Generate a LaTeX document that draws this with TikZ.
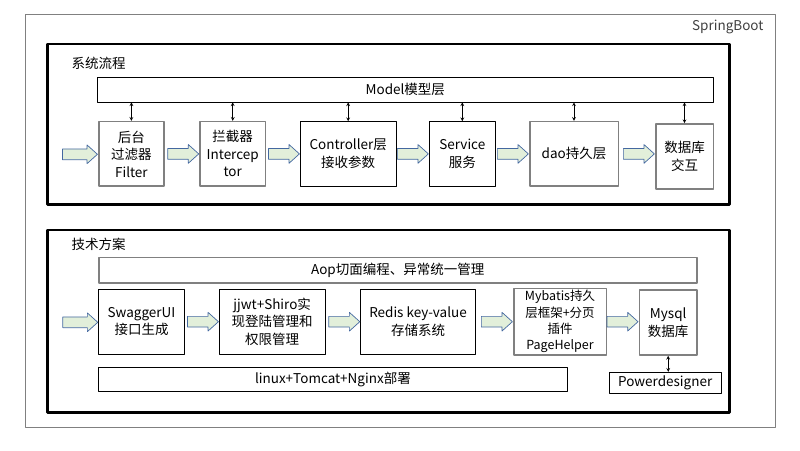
\documentclass[tikz,border=0pt]{standalone}
\usepackage{fontspec}
\setmainfont{Noto Sans CJK SC}
\usetikzlibrary{shapes.arrows}
\definecolor{arrowgreen}{RGB}{226,239,218}
\definecolor{arrowblue}{RGB}{68,104,160}
\definecolor{framegray}{RGB}{128,128,128}
\begin{document}
\begin{tikzpicture}[x=1pt,y=-1pt,font=\fontsize{13.5}{17.5}\selectfont,line join=round,>=stealth,
  box/.style={draw=black,line width=.8pt,minimum height=64.5,align=center,inner sep=1pt},
  graybox/.style={box,draw=framegray,line width=1.6pt},
  bar/.style={box,minimum height=25},
  frame/.style={draw=black,line width=2.5pt},
  fat/.style={single arrow,draw=arrowblue,fill=arrowgreen,line width=.7pt,minimum height=31,
    inner xsep=0pt,inner ysep=5pt,text height=0pt,text depth=0pt,
    single arrow head extend=4,single arrow tip angle=84},
  link/.style={<->,line width=.7pt}]
\useasboundingbox (0,0) rectangle (800,450);
\draw[framegray,line width=1pt] (25.3,14) rectangle (775.7,427.3);
\node[anchor=east,text=black!75] (sb) at (767,27) {SpringBoot};
% 系统流程
\draw[frame] (47.3,44) rectangle (729.3,204.7);
\node[anchor=west] (flowtitle) at (68,63) {系统流程};
\node[bar,minimum width=616] (model) at (405.3,89.4) {Model模型层};
\node[graybox,minimum width=65.3] (filter) at (131.4,153.9) {后台\\过滤器\\Filter};
\node[graybox,minimum width=65.3] (intercept) at (232.7,153.9) {拦截器\\Intercep\\tor};
\node[box,minimum width=95.7] (controller) at (348.2,153.9) {Controller层\\接收参数};
\node[box,minimum width=66] (service) at (462.3,153.9) {Service\\服务};
\node[graybox,minimum width=88.6] (dao) at (574,153.9) {dao持久层};
\node[graybox,minimum width=57.6,minimum height=65] (db) at (684.5,156.5) {数据库\\交互};
\coordinate (in1) at (63,154.3);
% 技术方案
\draw[frame] (47.3,230) rectangle (729.3,412.3);
\node[anchor=west] (techtitle) at (68,244) {技术方案};
\node[bar,graybox,minimum width=598,minimum height=25.4] (aop) at (397.7,270) {Aop切面编程、异常统一管理};
\node[box,minimum width=85.6] (swagger) at (141.5,321.7) {SwaggerUI\\接口生成};
\node[box,minimum width=105.7] (shiro) at (272.2,321.7) {jjwt+Shiro实\\现登陆管理和\\权限管理};
\node[box,minimum width=114.6] (redis) at (418,321.7) {Redis key-value\\存储系统};
\node[graybox,minimum width=92.6,minimum height=66.7,font=\fontsize{12.5}{16.3}\selectfont] (mybatis) at (560,321.7) {Mybatis持久\\层框架+分页\\插件\\PageHelper};
\node[graybox,minimum width=57.7,minimum height=65] (mysql) at (668.2,322.5) {Mysql\\数据库};
\node[bar,minimum width=111.7,minimum height=21] (pd) at (665.2,382.8) {Powerdesigner};
\node[bar,minimum width=468.3,minimum height=23.7] (deploy) at (332.9,379.2) {linux+Tomcat+Nginx部署};
\coordinate (in2) at (63,322.3);
\path (in1) -- (in1 -| filter.west) node[fat,pos=1,anchor=tip,minimum height=35] {};
\path (in2) -- (in2 -| swagger.west) node[fat,pos=1,anchor=tip,minimum height=35] {};
\foreach \a/\b in {filter/intercept,intercept/controller,controller/service,service/dao,dao/db,
  swagger/shiro,shiro/redis,redis/mybatis,mybatis/mysql}
  \path (\a.east) -- (\a.east -| \b.west) node[fat,pos=1,anchor=tip] {};
\foreach \n in {filter,intercept,controller,service,dao,db}
  \draw[link] (model.south -| \n.north) -- (\n.north);
\draw[link] (mysql.south) -- (mysql.south |- pd.north);
\end{tikzpicture}
\end{document}
